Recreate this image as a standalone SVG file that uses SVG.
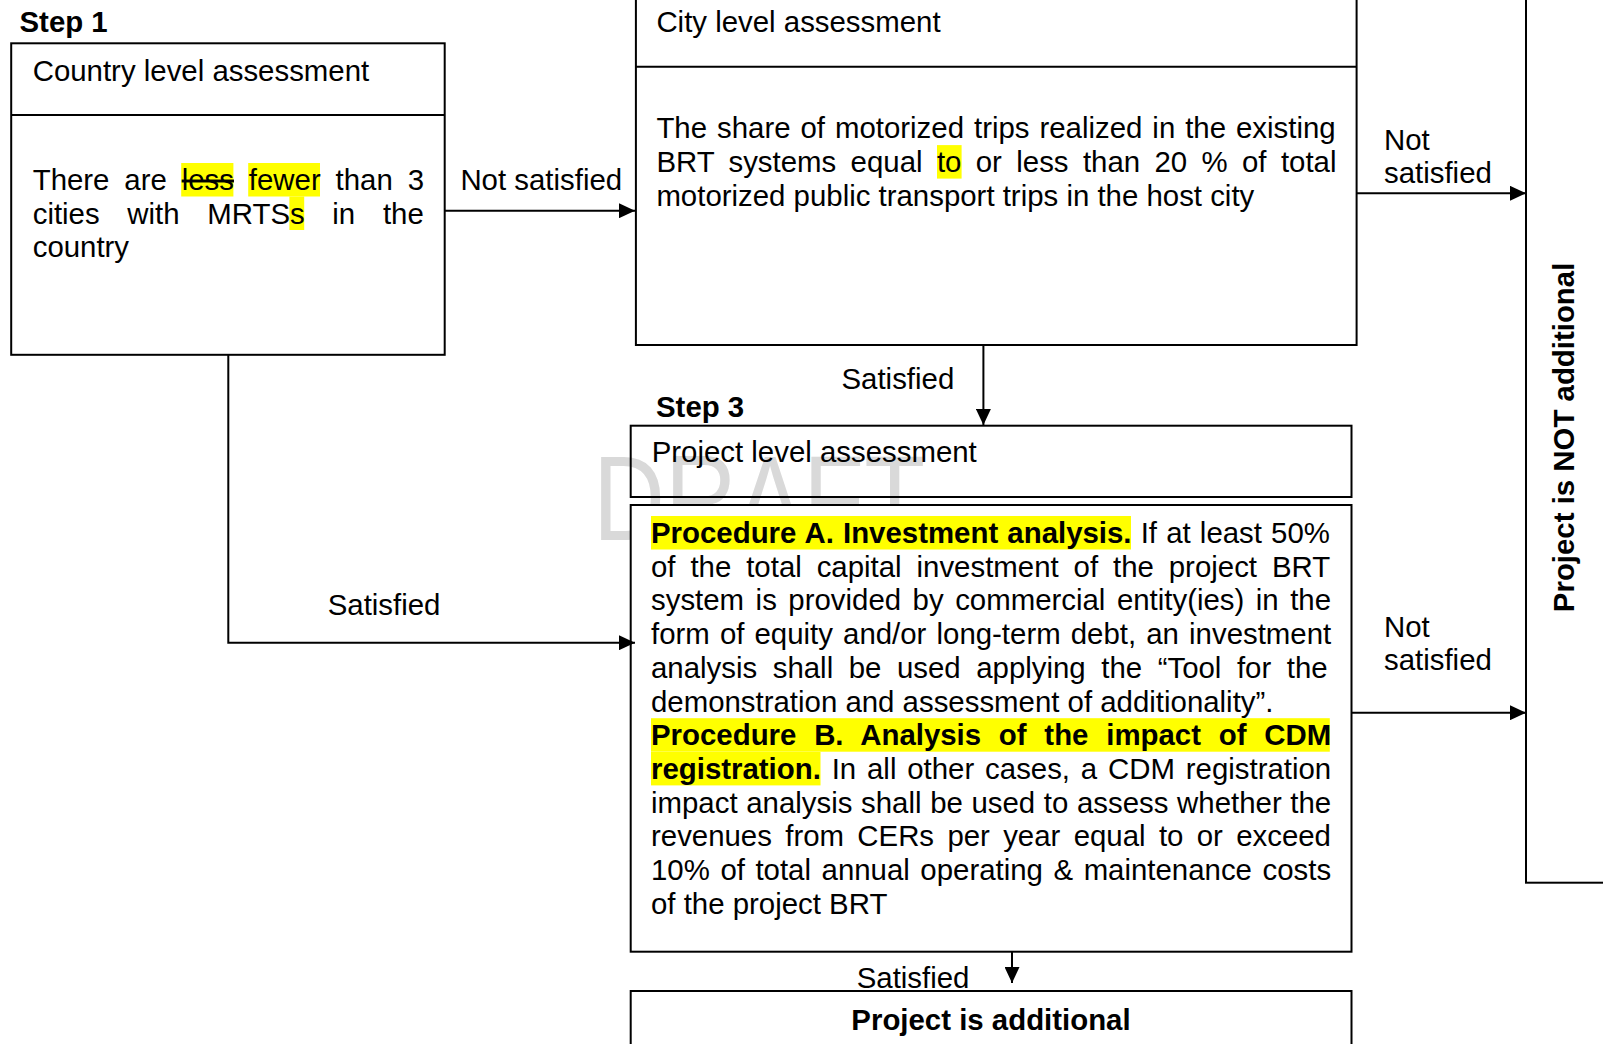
<svg xmlns="http://www.w3.org/2000/svg" width="1603" height="1044" viewBox="0 0 1603 1044">
<style>
text{font-family:"Liberation Sans",Arial,sans-serif;font-size:29.4px;fill:#000}
.b{font-weight:bold}
.box{fill:#fff;stroke:#000;stroke-width:2}
.open{fill:none;stroke:#000;stroke-width:2}
.div{stroke:#000;stroke-width:2}
.hl{fill:#ffff00}
.wm{font-size:121px;fill:#d9d9d9}
.con{fill:none;stroke:#000;stroke-width:2}
</style>
<defs>
<marker id="arr" markerUnits="userSpaceOnUse" markerWidth="16" markerHeight="15" refX="16" refY="7.5" orient="auto">
<path d="M0,0 L16,7.5 L0,15 z" fill="#000"/>
</marker>
</defs>
<rect width="1603" height="1044" fill="#fff"/>

<g id="watermark">
<text class="wm" x="593" y="540" textLength="332" lengthAdjust="spacingAndGlyphs">DRAFT</text>
</g>

<g id="step1">
<text class="b" x="19.5" y="31.7">Step 1</text>
<rect class="box" x="11.2" y="43.3" width="433.5" height="311.5"/>
<line class="div" x1="11.2" y1="115" x2="444.7" y2="115"/>
<text x="32.7" y="80.7">Country level assessment</text>
<rect class="hl" x="181.2" y="163" width="52.2" height="33.5"/>
<rect class="hl" x="248.2" y="163" width="71.8" height="33.5"/>
<rect class="hl" x="289.4" y="196.5" width="14.8" height="33.5"/>
<text x="32.7" y="190" style="word-spacing:6.7px">There are <tspan text-decoration="line-through">less</tspan> fewer than 3</text>
<text x="32.7" y="223.5" style="word-spacing:19.5px">cities with MRTSs in the</text>
<text x="32.7" y="257">country</text>
</g>

<g id="step2">
<rect class="box" x="635.9" y="-5" width="720.7" height="350"/>
<line class="div" x1="635.9" y1="66.7" x2="1356.6" y2="66.7"/>
<text x="656.4" y="32.3">City level assessment</text>
<rect class="hl" x="937" y="145.1" width="24.6" height="33.5"/>
<text x="656.4" y="138.4" style="word-spacing:1.8px">The share of motorized trips realized in the existing</text>
<text x="656.4" y="172.1" style="word-spacing:6.2px">BRT systems equal to or less than 20 % of total</text>
<text x="656.4" y="205.8">motorized public transport trips in the host city</text>
</g>

<g id="step3-header">
<text class="b" x="656" y="416.7">Step 3</text>
<rect class="open" x="630.7" y="425.7" width="720.8" height="71.3"/>
<text x="651.7" y="461.7">Project level assessment</text>
</g>

<g id="step3-procedures">
<rect class="box" x="630.7" y="505" width="720.8" height="446.7"/>
<rect class="hl" x="651" y="516" width="480" height="33.5"/>
<rect class="hl" x="651" y="718.2" width="678.8" height="33.5"/>
<rect class="hl" x="651" y="751.9" width="169.5" height="33.5"/>
<text x="651" y="543" style="word-spacing:1.0px"><tspan class="b">Procedure A. Investment analysis.</tspan> If at least 50%</text>
<text x="651" y="576.7" style="word-spacing:6.75px">of the total capital investment of the project BRT</text>
<text x="651" y="610.4" style="word-spacing:3.35px">system is provided by commercial entity(ies) in the</text>
<text x="651" y="644.1" style="word-spacing:1.95px">form of equity and/or long-term debt, an investment</text>
<text x="651" y="677.8" style="word-spacing:7.38px">analysis shall be used applying the “Tool for the</text>
<text x="651" y="711.5">demonstration and assessment of additionality”.</text>
<text class="b" x="651" y="745.2" style="word-spacing:9.6px">Procedure B. Analysis of the impact of CDM</text>
<text x="651" y="778.9" style="word-spacing:2.67px"><tspan class="b">registration.</tspan> In all other cases, a CDM registration</text>
<text x="651" y="812.6" style="word-spacing:0.48px">impact analysis shall be used to assess whether the</text>
<text x="651" y="846.3" style="word-spacing:5.15px">revenues from CERs per year equal to or exceed</text>
<text x="651" y="880" style="word-spacing:2.39px">10% of total annual operating &amp; maintenance costs</text>
<text x="651" y="913.7">of the project BRT</text>
</g>

<g id="additional">
<rect class="box" x="630.7" y="991" width="720.8" height="70"/>
<text class="b" x="991" y="1029.5" text-anchor="middle">Project is additional</text>
</g>

<g id="not-additional">
<rect class="box" x="1526" y="-5" width="100" height="887.7"/>
<text class="b" text-anchor="middle" transform="translate(1574,437.4) rotate(-90)">Project is NOT additional</text>
</g>

<g id="connectors">
<path class="con" d="M444.7,210.7 H635" marker-end="url(#arr)"/>
<text x="460.4" y="190">Not satisfied</text>
<path class="con" d="M983.4,345 V425" marker-end="url(#arr)"/>
<text x="841.5" y="389.3">Satisfied</text>
<path class="con" d="M228.3,354.8 V642.7 H635" marker-end="url(#arr)"/>
<text x="327.7" y="615">Satisfied</text>
<path class="con" d="M1356.6,193.3 H1526" marker-end="url(#arr)"/>
<text x="1384" y="150">Not</text>
<text x="1384" y="183.3">satisfied</text>
<path class="con" d="M1351.5,712.7 H1526" marker-end="url(#arr)"/>
<text x="1384" y="636.7">Not</text>
<text x="1384" y="670">satisfied</text>
<path class="con" d="M1012,951.7 V983" marker-end="url(#arr)"/>
<text x="856.7" y="987.7">Satisfied</text>
</g>
</svg>
